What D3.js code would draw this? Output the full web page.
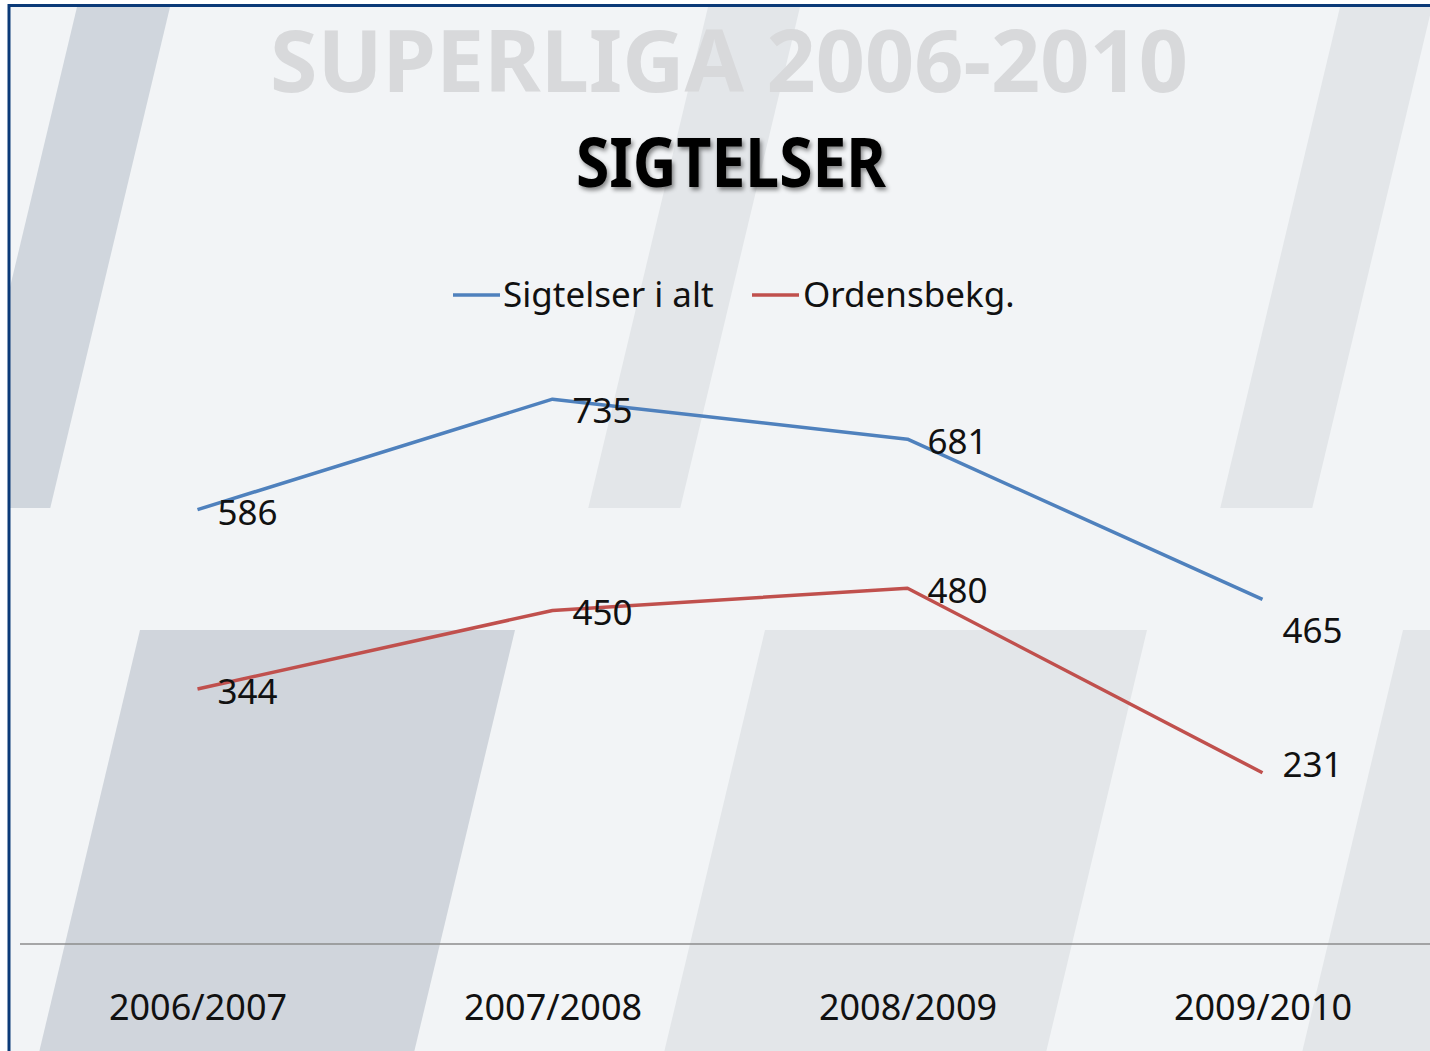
<!DOCTYPE html>
<html>
<head>
<meta charset="utf-8">
<script src="https://cdn.jsdelivr.net/npm/d3@7"></script>
<style>
  html, body { margin: 0; padding: 0; background: #ffffff; }
  svg { display: block; }
</style>
</head>
<body>
<svg id="chart" width="1430" height="1051"></svg>
<script>
// ---- data ----
const categories = ["2006/2007", "2007/2008", "2008/2009", "2009/2010"];
const seriesNames = ["Sigtelser i alt", "Ordensbekg."];
const sigtelserIAlt = [586, 735, 681, 465];
const ordensbekg = [344, 450, 480, 231];
const supTitle = "SUPERLIGA 2006-2010";
const mainTitle = "SIGTELSER";

// ---- layout / style (not data) ----
const W = 1430, H = 1051;
const colors = ["#4f81bd", "#c0504d"];
const labelNudge = [[0, 9, 0, 29], [0, 0, 0, -11]];
const font = "'Noto Sans', 'Open Sans', sans-serif";

const svg = d3.select("#chart");
const defs = svg.append("defs");
const f = defs.append("filter").attr("id", "shadow").attr("x", "-10%").attr("y", "-20%").attr("width", "130%").attr("height", "160%");
f.append("feDropShadow").attr("dx", 2).attr("dy", 3).attr("stdDeviation", 2)
  .attr("flood-color", "#000").attr("flood-opacity", 0.45);

const clip = defs.append("clipPath").attr("id", "inner");
clip.append("rect").attr("x", 10).attr("y", 7).attr("width", W).attr("height", H);

// background panel
svg.append("rect").attr("x", 0).attr("y", 0).attr("width", W).attr("height", H).attr("fill", "#ffffff");
const bg = svg.append("g").attr("clip-path", "url(#inner)");
bg.append("rect").attr("x", 0).attr("y", 0).attr("width", W).attr("height", H).attr("fill", "#f2f4f6");

// decorative slanted stripes
const stripes = [
  { y0: 7,   y1: 508,  x0: 77,   x1: 170,  fill: "#d0d6dd" },
  { y0: 7,   y1: 508,  x0: 708,  x1: 800,  fill: "#e3e6e9" },
  { y0: 7,   y1: 508,  x0: 1340, x1: 1432, fill: "#e3e6e9" },
  { y0: 630, y1: 1060, x0: 140,  x1: 515,  fill: "#d0d5dc" },
  { y0: 630, y1: 1060, x0: 765,  x1: 1147, fill: "#e3e6e9" },
  { y0: 630, y1: 1060, x0: 1403, x1: 1800, fill: "#e3e6e9" }
];
const slope = 0.239;
bg.selectAll("path.stripe").data(stripes).join("path")
  .attr("class", "stripe")
  .attr("fill", d => d.fill)
  .attr("d", d => {
    const dx = (d.y1 - d.y0) * slope;
    return `M${d.x0},${d.y0}L${d.x1},${d.y0}L${d.x1 - dx},${d.y1}L${d.x0 - dx},${d.y1}Z`;
  });

// border
svg.append("rect").attr("x", 9).attr("y", 5.5).attr("width", W + 20).attr("height", H + 20)
  .attr("fill", "none").attr("stroke", "#0b3a78").attr("stroke-width", 3);

// titles
svg.append("text").attr("x", 729).attr("y", 92).attr("text-anchor", "middle")
  .attr("font-family", font).attr("font-weight", 700).attr("font-size", 86)
  .attr("fill", "#d8d9db").attr("textLength", 918).attr("lengthAdjust", "spacingAndGlyphs")
  .text(supTitle);
svg.append("text").attr("x", 731).attr("y", 187).attr("text-anchor", "middle")
  .attr("font-family", font).attr("font-weight", 700).attr("font-size", 68)
  .attr("fill", "#000").attr("filter", "url(#shadow)")
  .attr("textLength", 310).attr("lengthAdjust", "spacingAndGlyphs")
  .text(mainTitle);

// scales
const x = d3.scalePoint().domain(categories).range([20, 1440]).padding(0.5);
const y = d3.scaleLinear().domain([0, 800]).range([944, 351]);

// legend
const legendItems = [
  { name: seriesNames[0], color: colors[0], lx: 453, tx: 503 },
  { name: seriesNames[1], color: colors[1], lx: 752, tx: 803 }
];
const lg = svg.append("g");
legendItems.forEach(it => {
  lg.append("line").attr("x1", it.lx).attr("x2", it.lx + 47).attr("y1", 295).attr("y2", 295)
    .attr("stroke", it.color).attr("stroke-width", 3.5);
  lg.append("text").attr("x", it.tx).attr("y", 307).attr("font-family", font)
    .attr("font-size", 35).attr("fill", "#111").text(it.name);
});

// axis
const axisG = svg.append("g").attr("transform", `translate(0,${y(0)})`)
  .call(d3.axisBottom(x).tickSize(0).tickPadding(0));
axisG.select(".domain").attr("d", `M20,0H${W}`).attr("stroke", "#8c8c8c").attr("stroke-width", 1.5);
axisG.selectAll(".tick text").attr("y", 76).attr("dy", 0)
  .attr("font-family", font).attr("font-size", 36).attr("fill", "#111");

// lines
const allSeries = [sigtelserIAlt, ordensbekg];
const line = d3.line().x((d, i) => x(categories[i])).y(d => y(d));
svg.selectAll("path.series").data(allSeries).join("path")
  .attr("class", "series")
  .attr("fill", "none")
  .attr("stroke", (d, i) => colors[i])
  .attr("stroke-width", 3.5)
  .attr("stroke-linejoin", "round")
  .attr("d", line);

// data labels
allSeries.forEach((vals, si) => {
  svg.append("g").selectAll("text").data(vals).join("text")
    .attr("x", (d, i) => x(categories[i]) + 20)
    .attr("y", (d, i) => y(d) + 15 + labelNudge[si][i])
    .attr("font-family", font).attr("font-size", 35).attr("fill", "#111")
    .text(d => d);
});
</script>
</body>
</html>
